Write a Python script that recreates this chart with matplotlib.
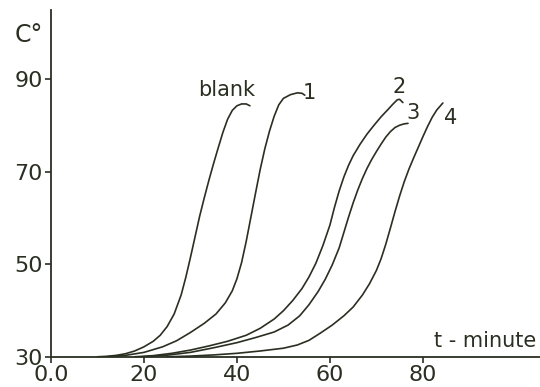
import matplotlib
matplotlib.use("Agg")
import matplotlib.pyplot as plt

INK = "#2a2f22"

# temperature (deg C) vs time (min) for each run
blank_t = [10, 12, 14, 16, 18, 20, 22, 23.5, 25, 26.5, 28, 29, 30, 31, 32, 33,
           34, 35, 36, 37, 38, 39, 40, 41, 42, 42.8]
blank_c = [30.05, 30.15, 30.35, 30.7, 31.3, 32.2, 33.4, 34.7, 36.6, 39.3, 43.4,
           47.2, 51.5, 56.0, 60.5, 64.5, 68.3, 71.9, 75.3, 78.6, 81.4, 83.3,
           84.3, 84.7, 84.7, 84.3]

run1_t = [12, 16, 20, 24, 27, 30, 33, 35.5, 37.5, 39, 40, 41, 42, 43, 44, 45,
          46, 47, 48, 49, 50, 51.5, 53, 54, 54.6]
run1_c = [30.05, 30.35, 31.0, 32.2, 33.5, 35.3, 37.3, 39.3, 41.7, 44.3, 46.9,
          50.4, 55.0, 60.2, 65.4, 70.5, 75.0, 78.8, 82.0, 84.5, 85.9, 86.7,
          87.1, 87.0, 86.6]

run2_t = [18, 22, 26, 30, 34, 38, 42, 45, 48, 50, 52, 54, 55.5, 57, 58.5, 60,
          61, 62, 63, 64, 65, 66.5, 68, 69.5, 71, 72.5, 73.5, 74.5, 75, 75.7]
run2_c = [30.05, 30.3, 30.8, 31.5, 32.4, 33.4, 34.7, 36.2, 38.2, 40.0, 42.2,
          44.8, 47.3, 50.3, 54.1, 58.5, 62.4, 65.9, 68.9, 71.4, 73.5, 76.0,
          78.2, 80.1, 81.9, 83.5, 84.6, 85.6, 85.7, 85.0]

run3_t = [20, 25, 30, 35, 40, 44, 48, 51, 53.5, 55.5, 57.5, 59, 60.5, 62, 63,
          64, 65, 66, 67, 68, 69, 70, 71, 72, 73, 74, 75, 76, 76.8]
run3_c = [30.05, 30.4, 31.0, 32.0, 33.1, 34.2, 35.4, 36.9, 38.9, 41.3, 44.2,
          46.8, 49.9, 53.6, 56.9, 60.2, 63.3, 66.1, 68.6, 70.8, 72.7, 74.4,
          76.0, 77.5, 78.7, 79.6, 80.1, 80.4, 80.5]

run4_t = [25, 30, 35, 40, 45, 50, 53, 55.5, 58, 60.5, 63, 65, 67, 68.5, 70, 71,
          72, 73, 74, 75, 76, 77, 78, 79, 80, 81, 82, 83, 84.3]
run4_c = [30.05, 30.2, 30.45, 30.8, 31.3, 31.9, 32.6, 33.6, 35.2, 36.9, 38.9,
          40.8, 43.4, 45.8, 48.7, 51.2, 54.3, 57.8, 61.4, 64.8, 67.9, 70.6,
          73.0, 75.3, 77.6, 79.8, 81.8, 83.4, 84.9]

curves = [(blank_t, blank_c), (run1_t, run1_c), (run2_t, run2_c),
          (run3_t, run3_c), (run4_t, run4_c)]
labels = ["blank", "1", "2", "3", "4"]
label_pos = [(37.7, 87.7), (55.6, 87.0), (75.0, 88.3), (77.9, 82.7), (85.9, 81.7)]

x_ticks = [0, 20, 40, 60, 80]
x_ticklabels = ["0.0", "20", "40", "60", "80"]
y_ticks = [30, 50, 70, 90]

fig = plt.figure(figsize=(5.4, 3.87), dpi=100)
ax = fig.add_axes([0.0944, 0.0775, 0.9056, 0.8966])

for t, c in curves:
    ax.plot(t, c, color=INK, lw=1.2, solid_joinstyle="round",
            solid_capstyle="round")

for lab, (x, y) in zip(labels, label_pos):
    ax.text(x, y, lab, color=INK, fontsize=15, ha="center", va="center")

ax.text(82.4, 32.2, "t - minute", color=INK, fontsize=15, ha="left",
        va="baseline", clip_on=False)
fig.text(0.028, 0.891, "C°", color=INK, fontsize=17, ha="left", va="baseline")

ax.set_xlim(0, 105.2)
ax.set_ylim(30, 105)
ax.set_xticks(x_ticks)
ax.set_xticklabels(x_ticklabels)
ax.set_yticks(y_ticks)
for s in ["top", "right"]:
    ax.spines[s].set_visible(False)
for s in ["left", "bottom"]:
    ax.spines[s].set_color(INK)
    ax.spines[s].set_linewidth(1.3)
ax.tick_params(colors=INK, labelsize=16, length=4, width=1.2, pad=2)

fig.savefig("out.png", dpi=100)
